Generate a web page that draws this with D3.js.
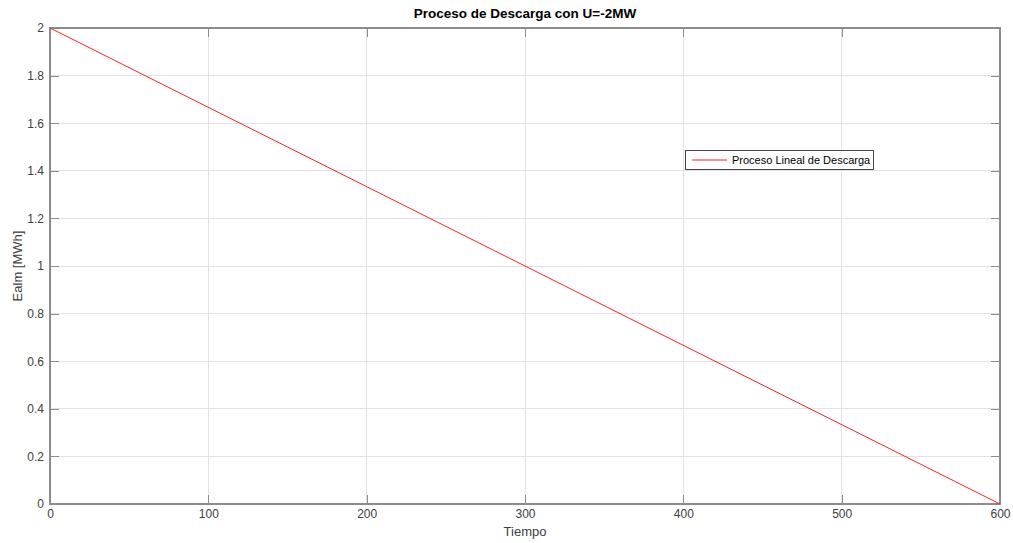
<!DOCTYPE html>
<html>
<head>
<meta charset="utf-8">
<script src="https://cdn.jsdelivr.net/npm/d3@7"></script>
<style>
  body { margin: 0; background: #fff; }
  svg { display: block; font-family: "Liberation Sans", Arial, sans-serif; }
</style>
</head>
<body>
<svg id="chart" width="1013" height="543"></svg>
<script>
// Stored energy while discharging at constant power
const tiempo = [0, 600];
const energia = [2, 0];
const xTicks = [0, 100, 200, 300, 400, 500, 600];
const yTicks = [0, 0.2, 0.4, 0.6, 0.8, 1, 1.2, 1.4, 1.6, 1.8, 2];
const titleText = "Proceso de Descarga con U=-2MW";
const xLabel = "Tiempo";
const yLabel = "Ealm [MWh]";
const legendLabel = "Proceso Lineal de Descarga";

const svg = d3.select("#chart");
const margin = { left: 50, top: 28, right: 13, bottom: 39 };
const W = 1013, H = 543;
const x = d3.scaleLinear().domain([0, 600]).range([margin.left, W - margin.right]);
const y = d3.scaleLinear().domain([0, 2]).range([H - margin.bottom, margin.top]);
const x0 = x.range()[0], x1 = x.range()[1], y0 = y.range()[0], y1 = y.range()[1];
const axisColor = "#8c8c8c", textColor = "#404040";

// grid
svg.append("g").selectAll("line").data(xTicks.slice(1, -1)).join("line")
  .attr("x1", d => x(d)).attr("x2", d => x(d)).attr("y1", y0).attr("y2", y1)
  .attr("stroke", "#e3e3e3").attr("stroke-width", 1).attr("shape-rendering", "crispEdges");
svg.append("g").selectAll("line").data(yTicks.slice(1, -1)).join("line")
  .attr("y1", d => y(d)).attr("y2", d => y(d)).attr("x1", x0).attr("x2", x1)
  .attr("stroke", "#e3e3e3").attr("stroke-width", 1).attr("shape-rendering", "crispEdges");

// axes (ticks point inward, box on all sides)
function styleAxis(g) {
  g.select(".domain").remove();
  g.selectAll(".tick line").attr("stroke", axisColor).attr("shape-rendering", "crispEdges");
  g.selectAll(".tick text").attr("fill", textColor).style("font-size", "12px");
}
svg.append("g").attr("transform", `translate(0,${y0})`)
  .call(d3.axisBottom(x).tickValues(xTicks).tickSize(-9).tickPadding(5).tickFormat(d3.format("d")))
  .call(styleAxis);
svg.append("g").attr("transform", `translate(0,${y1})`)
  .call(d3.axisTop(x).tickValues(xTicks).tickSize(-9).tickFormat(""))
  .call(styleAxis);
svg.append("g").attr("transform", `translate(${x0},0)`)
  .call(d3.axisLeft(y).tickValues(yTicks).tickSize(-9).tickPadding(6).tickFormat(d => d3.format("~g")(d)))
  .call(styleAxis);
svg.append("g").attr("transform", `translate(${x1},0)`)
  .call(d3.axisRight(y).tickValues(yTicks).tickSize(-9).tickFormat(""))
  .call(styleAxis);

svg.append("rect").attr("x", x0).attr("y", y1).attr("width", x1 - x0).attr("height", y0 - y1)
  .attr("fill", "none").attr("stroke", axisColor).attr("stroke-width", 1.3).attr("shape-rendering", "crispEdges");

// data line
const line = d3.line().x((d, i) => x(tiempo[i])).y(d => y(d));
svg.append("path").datum(energia).attr("d", line)
  .attr("fill", "none").attr("stroke", "#ff2020").attr("stroke-width", 1);

// labels
svg.append("text").attr("x", (x0 + x1) / 2).attr("y", 18).attr("text-anchor", "middle")
  .style("font-size", "13.5px").style("font-weight", "bold").attr("fill", "#000").text(titleText);
svg.append("text").attr("x", (x0 + x1) / 2).attr("y", 536).attr("text-anchor", "middle")
  .style("font-size", "13px").attr("fill", textColor).text(xLabel);
svg.append("text").attr("transform", `translate(22,${(y0 + y1) / 2}) rotate(-90)`).attr("text-anchor", "middle")
  .style("font-size", "13px").attr("fill", textColor).text(yLabel);

// legend
const lg = svg.append("g").attr("transform", "translate(685,150)");
lg.append("rect").attr("x", 0.5).attr("y", 0.5).attr("width", 188).attr("height", 19)
  .attr("fill", "#fff").attr("stroke", "#444").attr("stroke-width", 1);
lg.append("line").attr("x1", 7).attr("x2", 42).attr("y1", 10).attr("y2", 10)
  .attr("stroke", "#ff2020").attr("stroke-width", 1);
lg.append("text").attr("x", 47).attr("y", 14).style("font-size", "11px").attr("fill", "#000").text(legendLabel);
</script>
</body>
</html>
